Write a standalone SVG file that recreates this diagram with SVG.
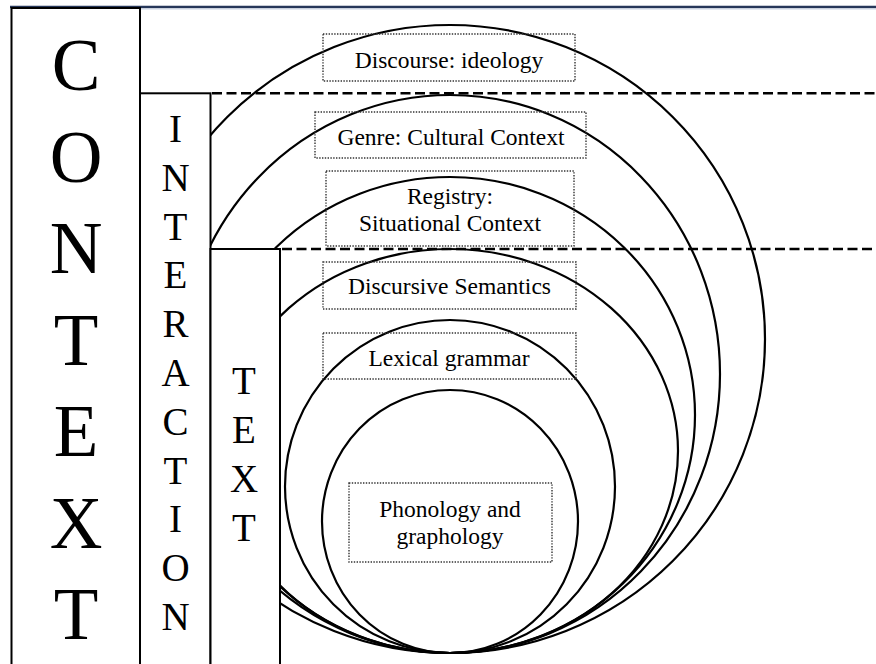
<svg xmlns="http://www.w3.org/2000/svg" width="876" height="664" viewBox="0 0 876 664">
  <style>
    .ring { fill: none; stroke: #000; stroke-width: 2.2; }
    .col { fill: #fff; stroke: #000; stroke-width: 2; }
    .tier { fill: none; stroke: #000; stroke-width: 2.6; stroke-dasharray: 10 4.5; }
    .tag { fill: none; stroke: #333; stroke-width: 1.4; stroke-dasharray: 1.4 1.4; }
    text { fill: #000; text-anchor: middle; }
    .lbl { font-size: 23.5px; }
    .big { font-size: 73px; }
    .mid { font-size: 39px; }
  </style>

  <rect width="876" height="664" fill="#fff"/>

  <!-- nested strata, all touching at the bottom -->
  <g id="connectors">
    <ellipse class="ring" cx="450" cy="339" rx="315" ry="314"/>
    <ellipse class="ring" cx="450" cy="374" rx="270" ry="279"/>
    <ellipse class="ring" cx="450" cy="415" rx="245" ry="238"/>
    <ellipse class="ring" cx="450" cy="451" rx="228" ry="202"/>
    <ellipse class="ring" cx="450" cy="486.5" rx="165" ry="166.5"/>
    <ellipse class="ring" cx="450" cy="521.5" rx="128" ry="131.5"/>
  </g>

  <!-- page frame top -->
  <line x1="10" y1="7" x2="876" y2="7" stroke="#26375a" stroke-width="2.6"/>
  <line x1="10" y1="9" x2="876" y2="9" stroke="#c9d3e3" stroke-width="1"/>

  <g font-family="Liberation Serif, Tinos, Noto Serif, FreeSerif, DejaVu Serif, serif">
  <!-- CONTEXT column -->
  <g id="context">
    <rect class="col" x="11.5" y="8" width="128.5" height="670"/>
    <text class="big" x="76" y="90">C</text>
    <text class="big" x="76" y="181.5">O</text>
    <text class="big" x="76" y="273">N</text>
    <text class="big" x="76" y="364.5">T</text>
    <text class="big" x="76" y="456">E</text>
    <text class="big" x="76" y="547.5">X</text>
    <text class="big" x="76" y="639">T</text>
  </g>

  <!-- INTERACTION column -->
  <g id="interaction">
    <rect class="col" x="140" y="93.3" width="70.5" height="590"/>
    <text class="mid" x="175.5" y="142">I</text>
    <text class="mid" x="175.5" y="190.8">N</text>
    <text class="mid" x="175.5" y="239.6">T</text>
    <text class="mid" x="175.5" y="288.4">E</text>
    <text class="mid" x="175.5" y="337.2">R</text>
    <text class="mid" x="175.5" y="386">A</text>
    <text class="mid" x="175.5" y="434.8">C</text>
    <text class="mid" x="175.5" y="483.6">T</text>
    <text class="mid" x="175.5" y="532.4">I</text>
    <text class="mid" x="175.5" y="581.2">O</text>
    <text class="mid" x="175.5" y="630">N</text>
  </g>

  <!-- TEXT column -->
  <g id="text-col">
    <rect class="col" x="210.5" y="249" width="69.5" height="440"/>
    <text class="mid" x="244" y="394">T</text>
    <text class="mid" x="244" y="443">E</text>
    <text class="mid" x="244" y="492">X</text>
    <text class="mid" x="244" y="541">T</text>
  </g>

  <!-- boundaries between context, interaction and text -->
  <g id="boundaries">
    <line class="tier" x1="212" y1="93.3" x2="876" y2="93.3"/>
    <line class="tier" x1="282" y1="249" x2="876" y2="249"/>
  </g>

  <g id="discourse">
    <rect class="tag" x="323" y="34" width="252" height="47"/>
    <text class="lbl" x="449" y="67.5">Discourse: ideology</text>
  </g>
  <g id="genre">
    <rect class="tag" x="315" y="112" width="271" height="46"/>
    <text class="lbl" x="451" y="144.5">Genre: Cultural Context</text>
  </g>
  <g id="registry">
    <rect class="tag" x="326" y="171" width="248" height="75"/>
    <text class="lbl" x="450" y="204">Registry:</text>
    <text class="lbl" x="450" y="230.5">Situational Context</text>
  </g>
  <g id="semantics">
    <rect class="tag" x="323" y="262" width="253" height="47"/>
    <text class="lbl" x="449.5" y="294">Discursive Semantics</text>
  </g>
  <g id="lexicogrammar">
    <rect class="tag" x="323" y="333" width="253" height="46"/>
    <text class="lbl" x="449" y="366">Lexical grammar</text>
  </g>
  <g id="phonology">
    <rect class="tag" x="349" y="483" width="203" height="79"/>
    <text class="lbl" x="450" y="516.5">Phonology and</text>
    <text class="lbl" x="450" y="544">graphology</text>
  </g>
  </g>
</svg>
